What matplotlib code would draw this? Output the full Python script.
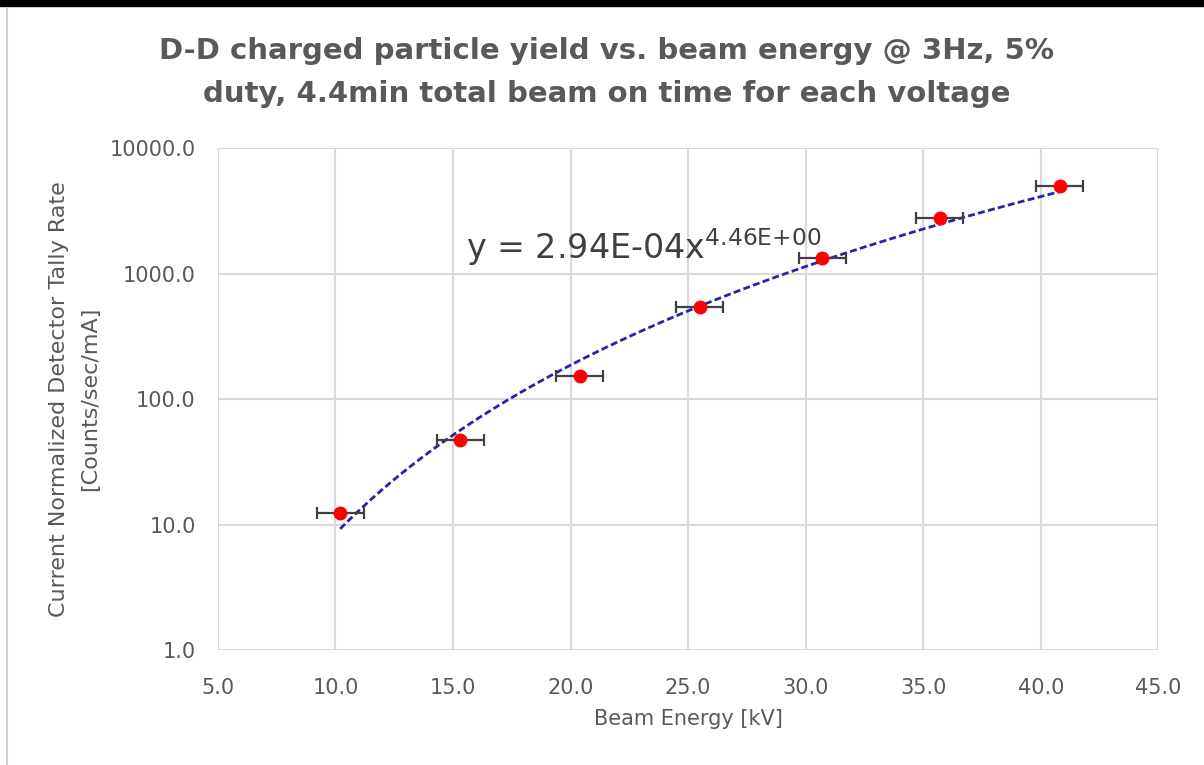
import numpy as np
import matplotlib.pyplot as plt
from matplotlib.patches import Rectangle
from matplotlib.lines import Line2D
from matplotlib.ticker import FixedLocator, FixedFormatter

plt.rcParams['font.family'] = ['DejaVu Sans']
plt.rcParams['mathtext.fontset'] = 'dejavusans'

# data
beam_kv = [10.2, 15.3, 20.4, 25.5, 30.7, 35.7, 40.8]
rate = [12.3, 47.5, 152.0, 540.0, 1340.0, 2750.0, 4950.0]
kv_err = [1.0, 1.0, 1.0, 1.0, 1.0, 1.0, 1.0]

# power-law trendline as printed on the chart
fit_a = 2.94e-4
fit_b = 4.46

x_ticks = [5, 10, 15, 20, 25, 30, 35, 40, 45]
y_ticks = [1, 10, 100, 1000, 10000]

grey_txt = '#595959'
grid_c = '#d9d9d9'

fig = plt.figure(figsize=(12.04, 7.65), dpi=100)
ax = fig.add_axes([0.181, 0.150, 0.781, 0.6565])

ax.set_yscale('log')
ax.set_xlim(5, 45)
ax.set_ylim(1, 10000)

ax.xaxis.set_major_locator(FixedLocator(x_ticks))
ax.xaxis.set_major_formatter(FixedFormatter(['{0:.1f}'.format(v) for v in x_ticks]))
ax.yaxis.set_major_locator(FixedLocator(y_ticks))
ax.yaxis.set_major_formatter(FixedFormatter(['{0:.1f}'.format(v) for v in y_ticks]))
ax.yaxis.set_minor_locator(FixedLocator([]))

ax.grid(True, color=grid_c, lw=1.5)
ax.set_axisbelow(True)
for sp in ax.spines.values():
    sp.set_visible(False)
ax.tick_params(length=0, labelsize=15, labelcolor=grey_txt)
ax.tick_params(axis='x', pad=20)
ax.tick_params(axis='y', pad=16)

# trendline
xfit = np.linspace(beam_kv[0], beam_kv[-1], 200)
ax.plot(xfit, fit_a * xfit ** fit_b, ls=(0, (2.5, 1.2)), color='#2424a8',
        lw=2.0, zorder=2)

ax.errorbar(beam_kv, rate, xerr=kv_err, fmt='o', color='#ff0000',
            markersize=9, ecolor='#404040', elinewidth=1.6, capsize=4.5,
            capthick=1.6, zorder=3)

ax.text(0.264, 0.78, r'y = 2.94E-04x$^{\mathrm{4.46E{+}00}}$',
        transform=ax.transAxes, fontsize=24, color='#404040')

ax.set_xlabel('Beam Energy [kV]', fontsize=15, color=grey_txt, labelpad=8)
ax.set_ylabel('Current Normalized Detector Tally Rate\n[Counts/sec/mA]',
              fontsize=16, color=grey_txt, labelpad=7, linespacing=1.65)

fig.suptitle('D-D charged particle yield vs. beam energy @ 3Hz, 5%\n'
             'duty, 4.4min total beam on time for each voltage',
             x=0.504, y=0.952, fontsize=21, fontweight='bold',
             color=grey_txt, linespacing=1.7)

# frame bits of the screenshot
fig.add_artist(Rectangle((0, 0.992), 1, 0.008, transform=fig.transFigure,
                         color='black'))
fig.add_artist(Line2D([0.006, 0.006], [0, 0.99], transform=fig.transFigure,
                      color='#d0d0d0', lw=1.5))

fig.savefig('out.png', dpi=100)
